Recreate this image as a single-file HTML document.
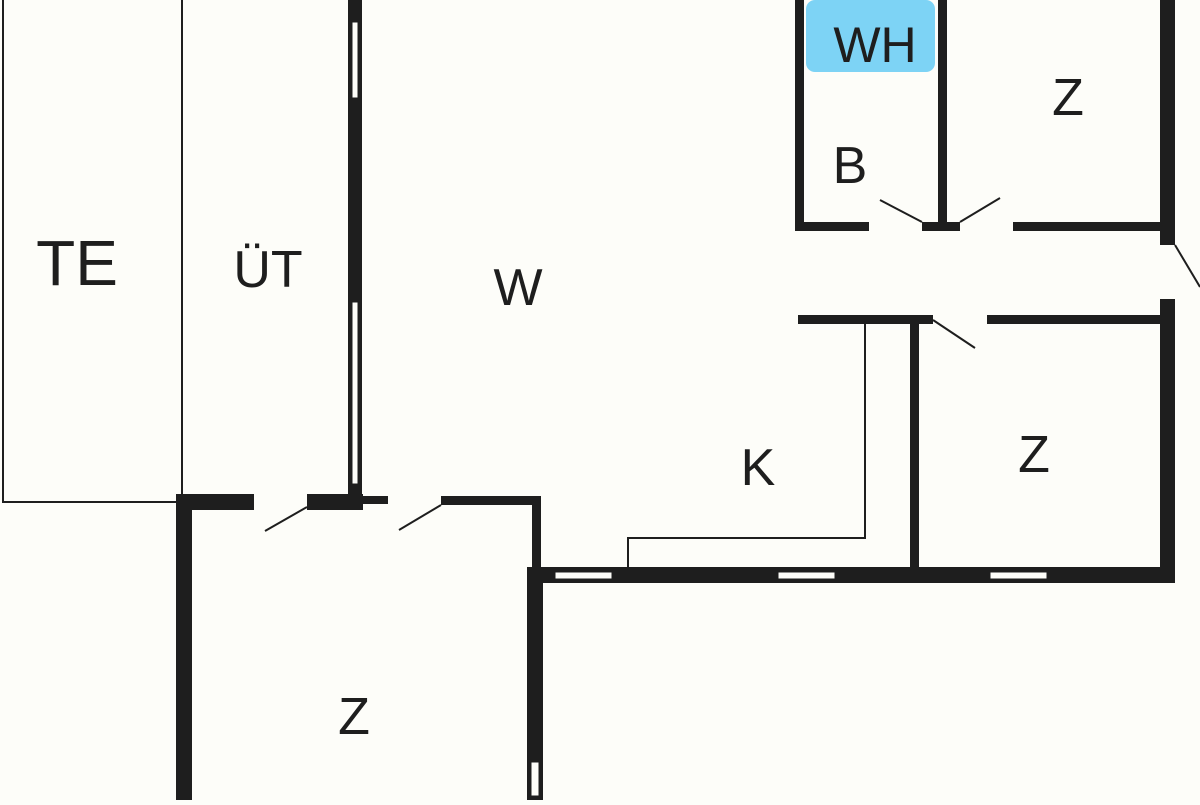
<!DOCTYPE html>
<html><head><style>html,body{margin:0;padding:0;background:#fdfdf9}</style></head><body>
<svg width="1200" height="800" viewBox="0 0 1200 800" xmlns="http://www.w3.org/2000/svg" font-family="Liberation Sans, sans-serif" fill="#1e1e1e">
<rect width="1200" height="800" fill="#fdfdf9"/>
<rect x="806" y="0" width="129" height="72" rx="9" fill="#7dd3f5"/>
<g fill="none" stroke="#1e1e1e" stroke-width="2">
<rect x="3" y="-5" width="179" height="507"/>
<line x1="182" y1="0" x2="182" y2="495"/>
<polyline points="865,324 865,538 628,538 628,570"/>
<line x1="880" y1="200" x2="922" y2="222"/>
<line x1="1000" y1="198" x2="960" y2="222"/>
<line x1="933" y1="320" x2="975" y2="348"/>
<line x1="1175" y1="245" x2="1200" y2="287"/>
<line x1="265" y1="531" x2="307" y2="507"/>
<line x1="399" y1="530" x2="441" y2="505"/>
</g>
<g fill="#1e1e1e">
<!-- UT right wall -->
<rect x="348" y="0" width="14" height="497"/>
<!-- bottom of UT/W -->
<rect x="176" y="494" width="78" height="16"/>
<rect x="307" y="494" width="56" height="16"/>
<rect x="362" y="496" width="26" height="8"/>
<rect x="441" y="496" width="100" height="9"/>
<rect x="532" y="496" width="9" height="80"/>
<!-- lower Z walls -->
<rect x="176" y="494" width="16" height="306"/>
<rect x="527" y="567" width="16" height="233"/>
<!-- bottom wall -->
<rect x="527" y="567" width="648" height="16"/>
<!-- right wall -->
<rect x="1160" y="0" width="15" height="245"/>
<rect x="1160" y="299" width="15" height="284"/>
<!-- B walls -->
<rect x="795" y="0" width="9" height="230"/>
<rect x="938" y="0" width="9" height="230"/>
<rect x="795" y="222" width="74" height="9"/>
<rect x="922" y="222" width="38" height="9"/>
<rect x="1013" y="222" width="150" height="9"/>
<!-- corridor lower wall -->
<rect x="798" y="315" width="135" height="9"/>
<rect x="987" y="315" width="178" height="9"/>
<rect x="910" y="315" width="9" height="262"/>
</g>
<!-- windows -->
<g fill="#fdfdf9" stroke="#1e1e1e" stroke-width="1">
<rect x="352" y="22" width="6" height="76"/>
<rect x="352" y="302" width="6" height="182"/>
<rect x="555" y="572" width="57" height="7"/>
<rect x="778" y="572" width="57" height="7"/>
<rect x="990" y="572" width="57" height="7"/>
<rect x="531" y="762" width="8" height="34"/>
</g>
<text x="77" y="285" font-size="64" text-anchor="middle">TE</text>
<text x="268" y="287" font-size="52" text-anchor="middle">ÜT</text>
<text x="518" y="305" font-size="52" text-anchor="middle">W</text>
<text x="850" y="183" font-size="52" text-anchor="middle">B</text>
<text x="875" y="62" font-size="50" text-anchor="middle">WH</text>
<text x="1068" y="115" font-size="52" text-anchor="middle">Z</text>
<text x="1034" y="472" font-size="52" text-anchor="middle">Z</text>
<text x="758" y="485" font-size="52" text-anchor="middle">K</text>
<text x="354" y="734" font-size="52" text-anchor="middle">Z</text>
</svg>
</body></html>
